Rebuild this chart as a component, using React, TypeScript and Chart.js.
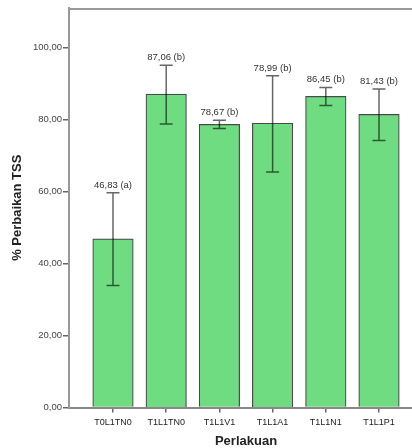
import React, { useEffect, useRef } from "react";
import { Chart, registerables } from "chart.js";

Chart.register(...registerables);

const categories = ["T0L1TN0", "T1L1TN0", "T1L1V1", "T1L1A1", "T1L1N1", "T1L1P1"];
const means = [46.83, 87.06, 78.67, 78.99, 86.45, 81.43];
const errLow = [33.9, 78.8, 77.5, 65.4, 83.9, 74.2];
const errHigh = [59.7, 95.1, 79.8, 92.2, 88.9, 88.5];
const groupLetters = ["a", "b", "b", "b", "b", "b"];
const yTicks = [0, 20, 40, 60, 80, 100];

const FONT = "'Liberation Sans', Arial, sans-serif";

const fmt = (v: number) => v.toFixed(2).replace(".", ",");

const overlayPlugin = {
  id: "overlay",
  afterDatasetsDraw(chart: any) {
    const { ctx, chartArea } = chart;
    const xs = chart.scales.x;
    const ys = chart.scales.y;
    ctx.save();
    ctx.strokeStyle = "rgba(0,0,0,0.6)";
    ctx.lineWidth = 1.5;
    for (let i = 0; i < categories.length; i++) {
      const cx = xs.getPixelForValue(i + 1);
      const yh = ys.getPixelForValue(errHigh[i]);
      const yl = ys.getPixelForValue(errLow[i]);
      ctx.beginPath();
      ctx.moveTo(cx, yh);
      ctx.lineTo(cx, yl);
      ctx.moveTo(cx - 6.5, yh);
      ctx.lineTo(cx + 6.5, yh);
      ctx.moveTo(cx - 6.5, yl);
      ctx.lineTo(cx + 6.5, yl);
      ctx.stroke();
      ctx.fillStyle = "#333";
      ctx.font = `9.5px ${FONT}`;
      ctx.textAlign = "center";
      ctx.textBaseline = "bottom";
      ctx.fillText(`${fmt(means[i])} (${groupLetters[i]})`, cx, yh - 3);
    }
    ctx.strokeStyle = "#999";
    ctx.lineWidth = 2;
    ctx.beginPath();
    ctx.moveTo(chartArea.left - 1, chartArea.top + 1);
    ctx.lineTo(chartArea.right, chartArea.top + 1);
    ctx.stroke();
    ctx.fillStyle = "#222";
    ctx.font = `bold 13px ${FONT}`;
    ctx.textAlign = "center";
    ctx.textBaseline = "middle";
    ctx.fillText("Perlakuan", xs.getPixelForValue(3.5), 441.5);
    ctx.translate(17.5, (chartArea.top + chartArea.bottom) / 2);
    ctx.rotate(-Math.PI / 2);
    ctx.fillText("% Perbaikan TSS", 0, 0);
    ctx.restore();
  },
};

export default function App() {
  const ref = useRef<HTMLCanvasElement>(null);
  useEffect(() => {
    if (!ref.current) return;
    const chart = new Chart(ref.current, {
      type: "bar",
      data: {
        datasets: [
          {
            data: means.map((m, i) => ({ x: i + 1, y: m })),
            backgroundColor: "#70DC82",
            borderColor: "#4a4a4a",
            borderWidth: 1.2,
            barThickness: 40.5,
          } as any,
        ],
      },
      options: {
        animation: false,
        responsive: false,
        layout: { padding: { top: 8, right: 0, left: 0, bottom: 0 } },
        plugins: { legend: { display: false }, tooltip: { enabled: false } },
        scales: {
          x: {
            type: "linear",
            offset: false,
            min: 0.173,
            max: 6.62,
            afterFit: (s: any) => {
              s.height = 40.5;
            },
            afterBuildTicks: (s: any) => {
              s.ticks = categories.map((_, i) => ({ value: i + 1 }));
            },
            grid: {
              offset: false,
              drawOnChartArea: false,
              drawTicks: true,
              tickLength: 5,
              color: "#666",
              lineWidth: 1.5,
            },
            border: { display: true, color: "#888", width: 2 },
            ticks: {
              autoSkip: false,
              maxRotation: 0,
              padding: 5,
              color: "#222",
              font: { family: FONT, size: 9 },
              callback: (v: any) => categories[Math.round(Number(v)) - 1] ?? "",
            },
          },
          y: {
            type: "linear",
            min: 0,
            max: 111,
            afterFit: (s: any) => {
              s.width = 69;
            },
            afterBuildTicks: (s: any) => {
              s.ticks = yTicks.map((v) => ({ value: v }));
            },
            grid: {
              drawOnChartArea: false,
              drawTicks: true,
              tickLength: 6,
              color: "#666",
              lineWidth: 1.5,
            },
            border: { display: true, color: "#999", width: 2 },
            ticks: {
              padding: 1,
              color: "#444",
              font: { family: FONT, size: 9.5 },
              callback: (v: any) => fmt(Number(v)),
            },
          },
        },
      },
      plugins: [overlayPlugin],
    });
    return () => chart.destroy();
  }, []);
  return (
    <div style={{ position: "fixed", left: 0, top: 0, width: 412, height: 448, background: "#fff" }}>
      <canvas ref={ref} width={412} height={448} />
    </div>
  );
}
